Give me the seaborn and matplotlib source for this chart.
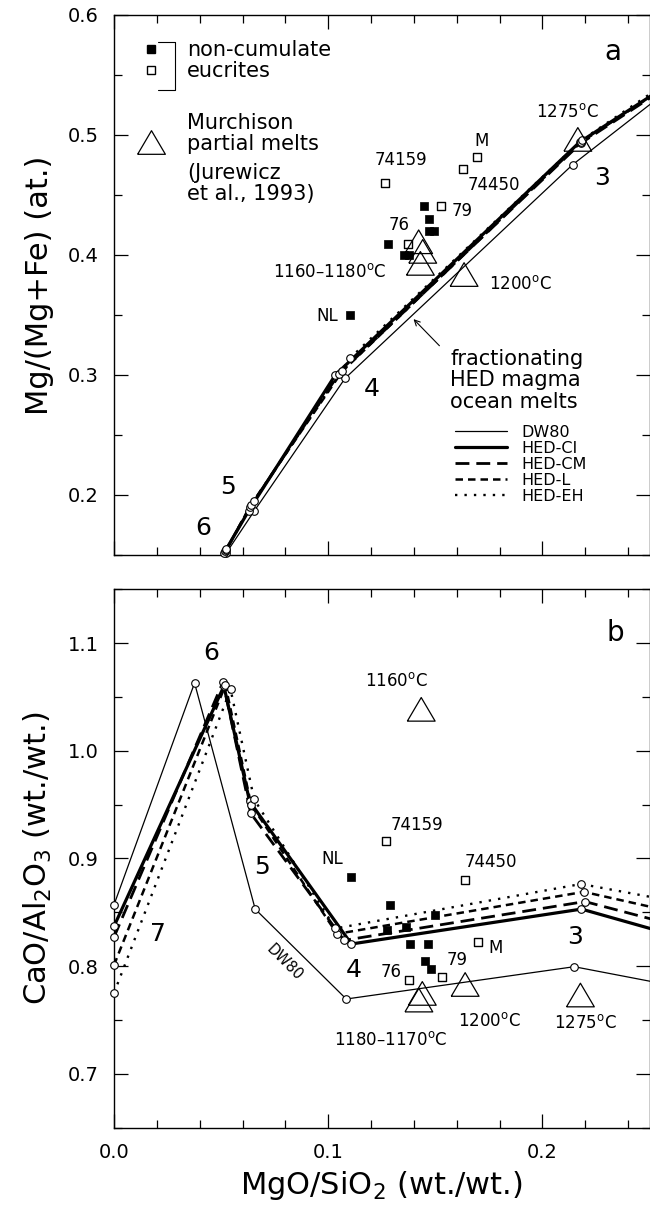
import matplotlib.pyplot as plt
import seaborn as sns
from matplotlib.lines import Line2D
from matplotlib.ticker import MultipleLocator

sns.set_style("ticks")
plt.rcParams["font.family"] = ["DejaVu Sans"]
plt.rcParams["mathtext.default"] = "regular"
for key in ["text.color", "axes.labelcolor", "xtick.color", "ytick.color", "axes.edgecolor"]:
    plt.rcParams[key] = "black"

# ---------------- data, panel a : Mg/(Mg+Fe) vs MgO/SiO2 ----------------
# melt paths (last point of each path lies past the right edge)
a_dw80_x = [0.0523, 0.0654, 0.1078, 0.2141, 0.27]
a_dw80_y = [0.1514, 0.1865, 0.2971, 0.4753, 0.553]
a_ci_x = [0.0515, 0.0629, 0.1033, 0.2173, 0.27]
a_ci_y = [0.152, 0.187, 0.300, 0.494, 0.555]
a_cm_x = [0.0520, 0.0635, 0.1050, 0.2178, 0.27]
a_cm_y = [0.153, 0.190, 0.301, 0.493, 0.554]
a_l_x = [0.0522, 0.0640, 0.1065, 0.2180, 0.27]
a_l_y = [0.154, 0.192, 0.303, 0.494, 0.555]
a_eh_x = [0.0525, 0.0652, 0.1103, 0.2185, 0.27]
a_eh_y = [0.155, 0.195, 0.3143, 0.496, 0.558]

# non-cumulate eucrites
a_filled_x = [0.1449, 0.1471, 0.1471, 0.1495, 0.1278, 0.1353, 0.1376, 0.1100]
a_filled_y = [0.4407, 0.430, 0.420, 0.420, 0.4095, 0.400, 0.400, 0.3497]
a_open_x = [0.1263, 0.1629, 0.1694, 0.1525, 0.1373]
a_open_y = [0.4603, 0.4714, 0.4813, 0.4407, 0.4095]
# Murchison partial melts
a_tri_x = [0.1422, 0.1441, 0.1430, 0.1634, 0.2165]
a_tri_y = [0.411, 0.403, 0.393, 0.3837, 0.4963]

# ---------------- data, panel b : CaO/Al2O3 vs MgO/SiO2 ----------------
b_dw80_x = [0.0, 0.0376, 0.0659, 0.1084, 0.2148, 0.30]
b_dw80_y = [0.857, 1.063, 0.853, 0.7695, 0.7995, 0.767]
b_ci_x = [0.0, 0.0513, 0.0633, 0.1108, 0.2182, 0.30]
b_ci_y = [0.837, 1.060, 0.953, 0.8206, 0.853, 0.807]
b_cm_x = [0.0, 0.0509, 0.0638, 0.1074, 0.2198, 0.30]
b_cm_y = [0.827, 1.064, 0.942, 0.824, 0.860, 0.818]
b_l_x = [0.0, 0.0520, 0.0640, 0.1041, 0.2193, 0.30]
b_l_y = [0.801, 1.061, 0.950, 0.830, 0.869, 0.833]
b_eh_x = [0.0, 0.0544, 0.0654, 0.1033, 0.2180, 0.30]
b_eh_y = [0.775, 1.057, 0.955, 0.835, 0.8763, 0.846]

b_filled_x = [0.1105, 0.1289, 0.1497, 0.1275, 0.1362, 0.1382, 0.1464, 0.1452, 0.1480]
b_filled_y = [0.8825, 0.8570, 0.8475, 0.8335, 0.8367, 0.8210, 0.8210, 0.8052, 0.7978]
b_open_x = [0.1270, 0.1636, 0.1700, 0.1531, 0.1378]
b_open_y = [0.9162, 0.8800, 0.8223, 0.7900, 0.7873]
b_tri_x = [0.1434, 0.1439, 0.1423, 0.1639, 0.2177]
b_tri_y = [1.0385, 0.7747, 0.7685, 0.7830, 0.7732]

line_styles = {
    "DW80": dict(lw=0.9, ls="-"),
    "HED-CI": dict(lw=2.3, ls="-"),
    "HED-CM": dict(lw=2.0, ls=(0, (5, 2.5))),
    "HED-L": dict(lw=1.8, ls=(0, (3, 2))),
    "HED-EH": dict(lw=1.7, ls=(0, (1, 3))),
}

tri_marker = [(-1, -0.85), (1, -0.85), (0, 0.85), (-1, -0.85)]
deg = r"$^{\rm o}$C"


def draw_paths(ax, paths):
    for name, xs, ys in paths:
        st = line_styles[name]
        sns.lineplot(x=xs, y=ys, sort=False, estimator=None, color="black",
                     linewidth=st["lw"], linestyle=st["ls"], ax=ax, zorder=2)
    for name, xs, ys in paths:
        sns.scatterplot(x=xs[:-1], y=ys[:-1], marker="o", s=30, color="black",
                        facecolor="white", edgecolor="black", linewidth=0.8,
                        clip_on=False, zorder=3, ax=ax)


def draw_samples(ax, fx, fy, ox, oy, tx, ty):
    sns.scatterplot(x=fx, y=fy, marker="s", s=34, color="black", edgecolor="black",
                    linewidth=0.5, zorder=4, ax=ax)
    sns.scatterplot(x=ox, y=oy, marker="s", s=32, color="black", facecolor="white",
                    edgecolor="black", linewidth=1.0, zorder=4, ax=ax)
    sns.scatterplot(x=tx, y=ty, marker=tri_marker, s=400, color="black", facecolor="none",
                    edgecolor="black", linewidth=0.9, zorder=5, ax=ax)


def style_axes(ax):
    ax.set_xlim(0, 0.25)
    ax.xaxis.set_major_locator(MultipleLocator(0.1))
    ax.xaxis.set_minor_locator(MultipleLocator(0.02))
    ax.yaxis.set_major_locator(MultipleLocator(0.1))
    ax.yaxis.set_minor_locator(MultipleLocator(0.05))
    ax.tick_params(which="both", direction="in", top=True, right=True, width=0.9,
                   labelsize=14, pad=11)
    ax.tick_params(which="major", length=10)
    ax.tick_params(which="minor", length=6)
    for sp in ax.spines.values():
        sp.set_linewidth(1.0)


fig = plt.figure(figsize=(6.5, 12.07), dpi=100)
ax_a = fig.add_axes([0.1754, 0.5402, 0.8240, 0.4474])
ax_b = fig.add_axes([0.1754, 0.0657, 0.8240, 0.4461])

# ---------------- panel a ----------------
draw_paths(ax_a, [("DW80", a_dw80_x, a_dw80_y), ("HED-CI", a_ci_x, a_ci_y),
                  ("HED-CM", a_cm_x, a_cm_y), ("HED-L", a_l_x, a_l_y),
                  ("HED-EH", a_eh_x, a_eh_y)])
draw_samples(ax_a, a_filled_x, a_filled_y, a_open_x, a_open_y, a_tri_x, a_tri_y)
style_axes(ax_a)
ax_a.set_ylim(0.15, 0.6)
ax_a.tick_params(labelbottom=False)
ax_a.set_xlabel("")
ax_a.set_ylabel("Mg/(Mg+Fe) (at.)", fontsize=22, labelpad=10)

small = dict(fontsize=12, ha="center", va="center")
big = dict(fontsize=18, ha="center", va="center")
ax_a.text(0.1340, 0.4790, "74159", **small)
ax_a.text(0.1773, 0.4585, "74450", **small)
ax_a.text(0.1716, 0.4946, "M", **small)
ax_a.text(0.1626, 0.4365, "79", **small)
ax_a.text(0.1332, 0.4248, "76", **small)
ax_a.text(0.0997, 0.3490, "NL", **small)
ax_a.text(0.1008, 0.3858, "1160\u20131180" + deg, **small)
ax_a.text(0.1895, 0.3760, "1200" + deg, **small)
ax_a.text(0.2116, 0.5195, "1275" + deg, **small)
ax_a.text(0.2280, 0.4639, "3", **big)
ax_a.text(0.1201, 0.2887, "4", **big)
ax_a.text(0.0531, 0.2070, "5", **big)
ax_a.text(0.0417, 0.1724, "6", **big)
ax_a.text(0.2328, 0.5690, "a", fontsize=20, ha="center", va="center")

ax_a.text(0.1569, 0.2957, "fractionating\nHED magma\nocean melts", fontsize=15,
          ha="left", va="center", linespacing=1.1)
ax_a.annotate("", xy=(0.1389, 0.3482), xytext=(0.1528, 0.3227),
              arrowprops=dict(arrowstyle="->", lw=0.8, color="black"))

# sample key (squares with bracket, triangle)
sq_handles = [Line2D([], [], marker="s", ls="none", ms=5.8, mfc="black", mec="black"),
              Line2D([], [], marker="s", ls="none", ms=5.8, mfc="white", mec="black", mew=1.0)]
leg1 = ax_a.legend(handles=sq_handles, labels=["non-cumulate", "eucrites"], loc="upper left",
                   bbox_to_anchor=(0.0485, 0.953), frameon=False, fontsize=15,
                   handlelength=1.1, handletextpad=1.15, labelspacing=0.05,
                   borderpad=0, borderaxespad=0)
ax_a.add_artist(leg1)
ax_a.plot([0.082, 0.114, 0.114, 0.082], [0.9506, 0.9506, 0.861, 0.861],
          transform=ax_a.transAxes, color="black", lw=0.8)
tri_handle = [Line2D([], [], marker=tri_marker, ls="none", ms=20, mfc="none",
                     mec="black", mew=0.9)]
leg2 = ax_a.legend(handles=tri_handle, labels=["partial melts"], loc="upper left",
                   bbox_to_anchor=(0.0485, 0.780), frameon=False, fontsize=15,
                   handlelength=1.1, handletextpad=1.15, borderpad=0, borderaxespad=0)
ax_a.add_artist(leg2)
ax_a.text(0.136, 0.7994, "Murchison", transform=ax_a.transAxes, fontsize=15,
          ha="left", va="center")
ax_a.text(0.136, 0.7265, "(Jurewicz\net al., 1993)", transform=ax_a.transAxes,
          fontsize=15, ha="left", va="top", linespacing=1.1)

# line key
line_handles = [Line2D([], [], color="black", lw=line_styles[n]["lw"], ls=line_styles[n]["ls"])
                for n in line_styles]
ax_a.legend(handles=line_handles, labels=list(line_styles), loc="upper left",
            bbox_to_anchor=(0.636, 0.2407), frameon=False, fontsize=11.5,
            handlelength=3.3, handletextpad=0.9, labelspacing=0.06,
            borderpad=0, borderaxespad=0)

# ---------------- panel b ----------------
draw_paths(ax_b, [("DW80", b_dw80_x, b_dw80_y), ("HED-CI", b_ci_x, b_ci_y),
                  ("HED-CM", b_cm_x, b_cm_y), ("HED-L", b_l_x, b_l_y),
                  ("HED-EH", b_eh_x, b_eh_y)])
draw_samples(ax_b, b_filled_x, b_filled_y, b_open_x, b_open_y, b_tri_x, b_tri_y)
style_axes(ax_b)
ax_b.set_ylim(0.65, 1.15)
ax_b.set_xlabel("MgO/SiO$_2$ (wt./wt.)", fontsize=22, labelpad=5)
ax_b.set_ylabel("CaO/Al$_2$O$_3$ (wt./wt.)", fontsize=22, labelpad=10)

ax_b.text(0.2341, 1.109, "b", fontsize=20, ha="center", va="center")
ax_b.text(0.0456, 1.0907, "6", **big)
ax_b.text(0.0689, 0.8924, "5", **big)
ax_b.text(0.1120, 0.7964, "4", **big)
ax_b.text(0.2152, 0.8274, "3", **big)
ax_b.text(0.0205, 0.8300, "7", **big)
ax_b.text(0.1316, 1.0644, "1160" + deg, **small)
ax_b.text(0.1415, 0.9312, "74159", **small)
ax_b.text(0.1021, 0.8996, "NL", **small)
ax_b.text(0.1759, 0.8965, "74450", **small)
ax_b.text(0.1780, 0.8170, "M", **small)
ax_b.text(0.1600, 0.8057, "79", **small)
ax_b.text(0.1292, 0.7942, "76", **small)
ax_b.text(0.1751, 0.7490, "1200" + deg, **small)
ax_b.text(0.2202, 0.7468, "1275" + deg, **small)
ax_b.text(0.1292, 0.7310, "1180\u20131170" + deg, **small)
ax_b.text(0.0797, 0.8035, "DW80", fontsize=10.5, ha="center", va="center",
          rotation=-45, rotation_mode="anchor")

fig.savefig("out.png", dpi=100)
